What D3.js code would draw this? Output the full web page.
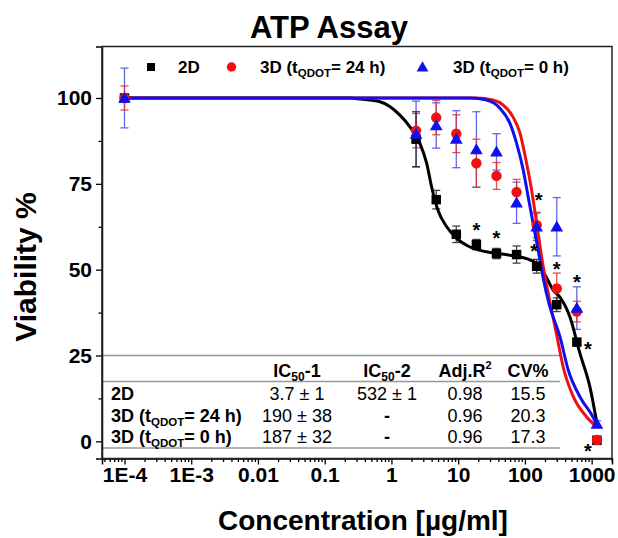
<!DOCTYPE html>
<html>
<head>
<meta charset="utf-8">
<script src="https://cdn.jsdelivr.net/npm/d3@7"></script>
<style>
	body { margin: 0; background: #fff; }
	svg { display: block; font-family: "Liberation Sans", Arial, sans-serif; }
</style>
</head>
<body>
<svg id="chart" width="618" height="538"></svg>
<script>
// concentrations (ug/ml) of the measured points
var conc = [1e-4, 2.34, 4.69, 9.375, 18.75, 37.5, 75, 150, 300, 600, 1200];

var viab2D   = [100, 88, 70.4, 60.3, 57.3, 54.7, 54.4, 51.0, 39.8, 28.9, 0.3];
var err2D    = [1, 8, 2.7, 2.4, 1.5, 1.5, 2.5, 2, 2, 1, 1];
var viab24h  = [100, 90.5, 94.3, 89.6, 81.0, 77.3, 72.6, 63.0, 44.5, 37.8, 0.4];
var err24h   = [3.5, 5, 5, 5.5, 7, 3.9, 3.7, 3.7, 4.5, 3, 1];
var viab0h   = [100, 89.5, 92.0, 88.0, 85.0, 84.3, 69.5, 62.5, 62.5, 38.8, 5.0];
var err0h    = [8.7, 9.6, 6.6, 8.3, 11, 5.3, 6, 4, 8.5, 6.2, 1];

// fitted curves as [conc, viability]
var fit2D = [[1e-4, 100], [0.239, 100], [0.339, 99.7], [0.673, 98.9], [1.34, 95], [1.89, 91.6],
	[2.67, 86.8], [3.37, 81], [4.01, 74], [4.98, 67.3], [6.73, 62.5], [9.51, 59.1], [15.0, 56.6],
	[26.7, 55.2], [59.7, 54.2], [106, 53.2], [150, 51.8], [200, 48.5], [266, 44], [335, 42],
	[473, 36.2], [668, 25.6], [944, 15.8], [1200, 5.2]];
var fit24h = [[1e-4, 100], [18.9, 100], [33.2, 99.4], [46.9, 98], [66.2, 94.5], [84.3, 89.8],
	[106, 81], [126, 73.2], [150, 63.5], [178, 53.7], [200, 48], [238, 40.5], [299, 31],
	[376, 21.5], [531, 13], [841, 7.1], [1200, 4.2]];
var fit0h = [[1e-4, 100], [15, 100], [26.7, 99.4], [42.3, 97], [59.7, 92.6], [75.3, 86.7],
	[94.5, 79], [112, 71.2], [133, 63.4], [158, 55.7], [188, 47.5], [230, 40], [336, 30.4],
	[447, 20.7], [670, 12.9], [1047, 7.1], [1200, 4.8]];

// significance asterisks [conc, viability]
var stars = [[18.75, 62.7], [37.5, 60.3], [160, 71.4], [137, 56.6], [300, 51.3], [600, 47.5], [881, 28], [881, -1.7]];

var xTicks = [1e-4, 1e-3, 0.01, 0.1, 1, 10, 100, 1000];
var xTickLabels = ["1E-4", "1E-3", "0.01", "0.1", "1", "10", "100", "1000"];
var yTicks = [0, 25, 50, 75, 100];
var yMinor = [12.5, 37.5, 62.5, 87.5];

var seriesNames = ["2D", "3D (t", "3D (t"];
var seriesColors = ["#000000", "#ee1111", "#1010ee"];

var tableHeader = ["IC50-1", "IC50-2", "Adj.R2", "CV%"];
var tableRows = ["2D", "3D 24", "3D 0"];
var ic50a = ["3.7 \u00b1 1", "190 \u00b1 38", "187 \u00b1 32"];
var ic50b = ["532 \u00b1 1", "-", "-"];
var adjR2 = ["0.98", "0.96", "0.96"];
var cvPct = ["15.5", "20.3", "17.3"];

var svg = d3.select("#chart"),
	pLeft = 102, pRight = 612, pTop = 46.5, pBottom = 458.5;

svg.append("rect").attr("width", 618).attr("height", 538).attr("fill", "#fff");

var x = d3.scaleLog()
	.domain([Math.pow(10, -4.337), Math.pow(10, 3.305)])
	.range([pLeft, pRight]);

var y = d3.scaleLinear()
	.domain([-5, 115])
	.range([pBottom, pTop]);

// title
svg.append("text")
	.attr("x", 329).attr("y", 37.5)
	.attr("text-anchor", "middle")
	.style("font-size", "31px").style("font-weight", "bold")
	.text("ATP Assay");

// table lines (behind the data)
var tbl = svg.append("g").attr("class", "table");
[355.5, 381.5, 448].forEach(function(yy) {
	tbl.append("line")
		.attr("x1", pLeft).attr("x2", 560)
		.attr("y1", yy).attr("y2", yy)
		.attr("stroke", "#999").attr("stroke-width", 1.3);
});

// axes
var xAxis = svg.append("g")
	.attr("transform", "translate(0," + pBottom + ")")
	.call(d3.axisBottom(x).tickValues(xTicks)
		.tickFormat(function(d, i) { return xTickLabels[i]; })
		.tickSize(6).tickPadding(3));
xAxis.selectAll("text").style("font-size", "21px").style("font-weight", "bold")
	.style("font-family", "Liberation Sans, Arial, sans-serif");

var minorX = [];
for (var e = -5; e <= 3; e++) {
	for (var k = 2; k <= 9; k++) {
		var v = k * Math.pow(10, e);
		if (v > x.domain()[0] && v < x.domain()[1]) minorX.push(v);
	}
}
svg.append("g")
	.attr("transform", "translate(0," + pBottom + ")")
	.call(d3.axisBottom(x).tickValues(minorX).tickFormat("").tickSize(3.5))
	.select(".domain").remove();

var yAxis = svg.append("g")
	.attr("transform", "translate(" + pLeft + ",0)")
	.call(d3.axisLeft(y).tickValues(yTicks).tickSize(6).tickPadding(4));
yAxis.selectAll("text").style("font-size", "21px").style("font-weight", "bold")
	.style("font-family", "Liberation Sans, Arial, sans-serif");

svg.append("g")
	.attr("transform", "translate(" + pLeft + ",0)")
	.call(d3.axisLeft(y).tickValues(yMinor).tickFormat("").tickSize(3.5))
	.select(".domain").remove();

svg.selectAll(".domain").attr("stroke-width", 1.5);
svg.selectAll(".tick line").attr("stroke-width", 1.3);

// frame
svg.append("rect")
	.attr("x", pLeft).attr("y", pTop)
	.attr("width", pRight - pLeft).attr("height", pBottom - pTop)
	.attr("fill", "none").attr("stroke", "#222").attr("stroke-width", 1.5);

// axis titles
svg.append("text")
	.attr("x", 363).attr("y", 530)
	.attr("text-anchor", "middle")
	.style("font-size", "28px").style("font-weight", "bold")
	.text("Concentration [\u00b5g/ml]");

svg.append("text")
	.attr("transform", "translate(36,267) rotate(-90)")
	.attr("text-anchor", "middle")
	.style("font-size", "30px").style("font-weight", "bold")
	.text("Viability %");

// fitted curves
var line = d3.line()
	.x(function(d) { return x(d[0]); })
	.y(function(d) { return y(d[1]); })
	.curve(d3.curveMonotoneX);

var fits = [fit2D, fit24h, fit0h];
var g = svg.append("g");

// error bars
var series = [
	{ v: viab2D, e: err2D, c: seriesColors[0], bar: "#222" },
	{ v: viab24h, e: err24h, c: seriesColors[1], bar: "#e03030" },
	{ v: viab0h, e: err0h, c: seriesColors[2], bar: "#4a4ae6" }
];

[2, 1, 0].forEach(function(s) {
	var ser = series[s];
	var eb = g.append("g").attr("stroke", ser.bar).attr("stroke-width", 1.3).attr("opacity", 0.85);
	conc.forEach(function(c, i) {
		var cx = x(c), y1 = y(ser.v[i] + ser.e[i]), y2 = y(ser.v[i] - ser.e[i]);
		eb.append("line").attr("x1", cx).attr("x2", cx).attr("y1", y1).attr("y2", y2);
		eb.append("line").attr("x1", cx - 4).attr("x2", cx + 4).attr("y1", y1).attr("y2", y1);
		eb.append("line").attr("x1", cx - 4).attr("x2", cx + 4).attr("y1", y2).attr("y2", y2);
	});
});

fits.forEach(function(f, i) {
	g.append("path")
		.attr("d", line(f))
		.attr("fill", "none")
		.attr("stroke", seriesColors[i])
		.attr("stroke-width", 3);
});

// markers
var symSquare = d3.symbol().type(d3.symbolSquare).size(90),
	symCircle = d3.symbol().type(d3.symbolCircle).size(85),
	symTri = d3.symbol().type(d3.symbolTriangle).size(70);

g.selectAll(".pt2d").data(conc).enter().append("path")
	.attr("d", symSquare)
	.attr("transform", function(d, i) { return "translate(" + x(d) + "," + y(viab2D[i]) + ")"; })
	.attr("fill", seriesColors[0]);

g.selectAll(".pt24").data(conc).enter().append("path")
	.attr("d", symCircle)
	.attr("transform", function(d, i) { return "translate(" + x(d) + "," + y(viab24h[i]) + ")"; })
	.attr("fill", seriesColors[1]);

g.selectAll(".pt0").data(conc).enter().append("path")
	.attr("d", symTri)
	.attr("transform", function(d, i) { return "translate(" + x(d) + "," + (y(viab0h[i]) + 1) + ")"; })
	.attr("fill", seriesColors[2]);

// asterisks
g.selectAll(".star").data(stars).enter().append("text")
	.attr("x", function(d) { return x(d[0]); })
	.attr("y", function(d) { return y(d[1]) + 11; })
	.attr("text-anchor", "middle")
	.style("font-size", "20px").style("font-weight", "bold")
	.text("*");

// legend
var leg = svg.append("g").style("font-size", "17px").style("font-weight", "bold");
leg.append("path").attr("d", d3.symbol().type(d3.symbolSquare).size(64))
	.attr("transform", "translate(151,67)").attr("fill", seriesColors[0]);
leg.append("path").attr("d", d3.symbol().type(d3.symbolCircle).size(70))
	.attr("transform", "translate(231.5,67)").attr("fill", seriesColors[1]);
leg.append("path").attr("d", d3.symbol().type(d3.symbolTriangle).size(60))
	.attr("transform", "translate(422.5,68)").attr("fill", seriesColors[2]);

function qdotLabel(sel, px, py, rest) {
	var t = sel.append("text").attr("x", px).attr("y", py);
	t.append("tspan").text("3D (t");
	t.append("tspan").attr("dy", 4).style("font-size", "11.5px").text("QDOT");
	t.append("tspan").attr("dy", -4).text(rest);
	return t;
}

leg.append("text").attr("x", 178).attr("y", 73).text(seriesNames[0]);
qdotLabel(leg, 260, 73, "= 24 h)");
qdotLabel(leg, 453, 73, "= 0 h)");

// table text
var tt = svg.append("g").style("font-size", "18px");
var colX = [297, 387, 465, 528];
var rowY = [400, 422, 443];

var hdr = tt.append("g").style("font-weight", "bold").attr("text-anchor", "middle");
[0, 1].forEach(function(i) {
	var t = hdr.append("text").attr("x", colX[i]).attr("y", 377);
	t.append("tspan").text(tableHeader[i].slice(0, 2));
	t.append("tspan").attr("dy", 4).style("font-size", "12px").text(tableHeader[i].slice(2, 4));
	t.append("tspan").attr("dy", -4).text(tableHeader[i].slice(4));
});
var r2 = hdr.append("text").attr("x", colX[2]).attr("y", 377);
r2.append("tspan").text(tableHeader[2].slice(0, 5));
r2.append("tspan").attr("dy", -8).style("font-size", "11px").text(tableHeader[2].slice(5));
hdr.append("text").attr("x", colX[3]).attr("y", 377).text(tableHeader[3]);

var lab = tt.append("g").style("font-weight", "bold");
lab.append("text").attr("x", 111).attr("y", rowY[0]).text(tableRows[0]);
qdotLabel(lab, 111, rowY[1], "= 24 h)");
qdotLabel(lab, 111, rowY[2], "= 0 h)");

var cols = [ic50a, ic50b, adjR2, cvPct];
cols.forEach(function(col, c) {
	col.forEach(function(val, r) {
		tt.append("text")
			.attr("x", colX[c]).attr("y", rowY[r])
			.attr("text-anchor", "middle")
			.style("font-weight", val === "-" ? "bold" : "normal")
			.text(val);
	});
});
</script>
</body>
</html>
